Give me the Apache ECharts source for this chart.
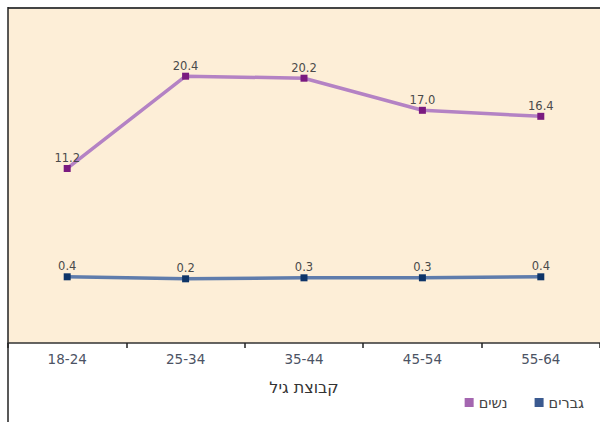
<!DOCTYPE html>
<html>
<head>
<meta charset="utf-8">
<script src="https://cdn.jsdelivr.net/npm/echarts@6/dist/echarts.min.js"></script>
<style>
  html, body { margin: 0; padding: 0; background: #ffffff; }
  #chart { width: 600px; height: 422px; }
</style>
</head>
<body>
<div id="chart"></div>
<script>
// Age groups on the category axis
const ageGroups = ['18-24', '25-34', '35-44', '45-54', '55-64'];
// Rates per age group
const women = [11.2, 20.4, 20.2, 17.0, 16.4];
const men = [0.4, 0.2, 0.3, 0.3, 0.4];
const seriesNames = ['נשים', 'גברים'];
const axisTitle = 'קבוצת גיל';

const chart = echarts.init(document.getElementById('chart'), null, { renderer: 'svg' });

const labelStyle = {
  show: true,
  position: 'top',
  distance: 1,
  color: '#4a4a4a',
  fontSize: 11.5,
  fontFamily: 'DejaVu Sans',
  formatter: p => p.value.toFixed(1)
};

chart.setOption({
  animation: false,
  backgroundColor: '#ffffff',
  grid: {
    left: 8, top: 8, width: 605, bottom: 79,
    show: true, backgroundColor: '#fdeed7', borderWidth: 0
  },
  legend: {
    data: [
      { name: seriesNames[0], itemStyle: { color: '#a466b0' } },
      { name: seriesNames[1], itemStyle: { color: '#3b5a90' } }
    ],
    right: 11, bottom: 7,
    itemWidth: 9, itemHeight: 9, itemGap: 27,
    icon: 'rect',
    textStyle: { color: '#444', fontSize: 14.5, fontFamily: 'DejaVu Sans' }
  },
  xAxis: {
    type: 'category',
    data: ageGroups,
    boundaryGap: true,
    name: axisTitle,
    nameLocation: 'middle',
    nameGap: 36,
    nameTextStyle: { color: '#333', fontSize: 16, fontFamily: 'DejaVu Sans' },
    axisLine: { onZero: false, lineStyle: { color: '#333', width: 1.5 } },
    axisTick: { show: true, length: 5, alignWithLabel: false, lineStyle: { color: '#222', width: 1.5 } },
    axisLabel: { color: '#4c5364', fontSize: 13.5, margin: 9, fontFamily: 'DejaVu Sans' }
  },
  yAxis: {
    type: 'value',
    min: -6.2, max: 27.2,
    show: false,
    splitLine: { show: false }
  },
  series: [
    {
      name: seriesNames[0],
      type: 'line',
      data: women,
      symbol: 'rect',
      symbolSize: 7,
      lineStyle: { color: '#b482c4', width: 3.5 },
      itemStyle: { color: '#7a1a80' },
      label: labelStyle
    },
    {
      name: seriesNames[1],
      type: 'line',
      data: men,
      symbol: 'rect',
      symbolSize: 7,
      lineStyle: { color: '#5f7cac', width: 3.5 },
      itemStyle: { color: '#0e3468' },
      label: labelStyle
    }
  ],
  graphic: [
    { type: 'line', shape: { x1: 8, y1: 8, x2: 600, y2: 8 }, style: { stroke: '#444', lineWidth: 2 } },
    { type: 'line', shape: { x1: 8, y1: 7, x2: 8, y2: 422 }, style: { stroke: '#222', lineWidth: 1.5 } }
  ]
});
</script>
</body>
</html>
